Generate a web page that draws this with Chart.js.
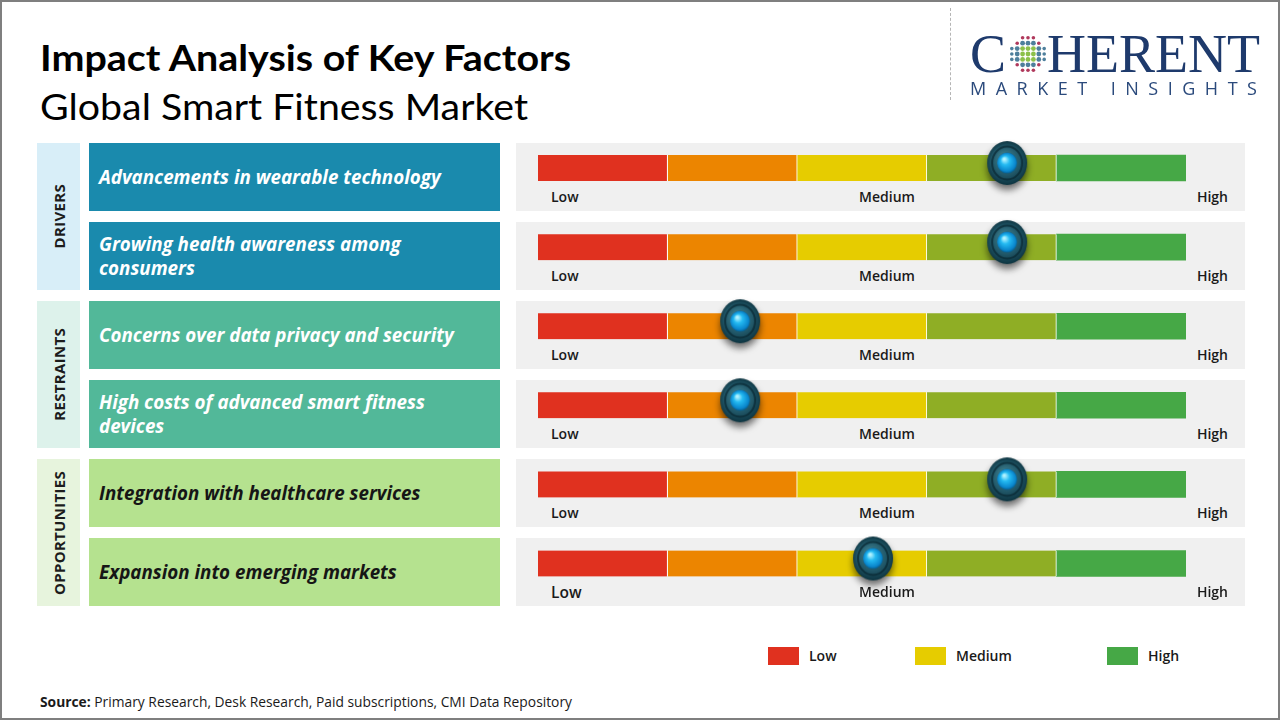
<!DOCTYPE html>
<html><head><meta charset="utf-8">
<script src="https://cdn.jsdelivr.net/npm/chart.js@4.4.1/dist/chart.umd.min.js"></script>
<style>
html,body{margin:0;padding:0;background:#fff;}
#wrap{position:relative;width:1280px;height:720px;overflow:hidden;background:#fff;font-family:'Open Sans',sans-serif;}
#frame{position:absolute;left:0;top:0;width:1276px;height:716px;border:2px solid #7f7f7f;pointer-events:none;z-index:9}
.abs{position:absolute;white-space:nowrap}
#title{left:40px;top:39px;font:700 36px Lato;line-height:36px;color:#000;transform-origin:0 0}
#subtitle{left:40px;top:88px;font:400 36px Lato;line-height:36px;color:#000;transform-origin:0 0}
#dash{left:950px;top:8px;height:92px;border-left:1px dashed #b5b5b5}
.logo{font-family:'Liberation Serif',serif;font-size:54px;line-height:54px;color:#1e3a6c;top:27px}
#mi{left:970px;top:78px;font:400 18px 'Open Sans';line-height:20px;color:#2b4a7c;letter-spacing:9.5px}
#canvas{position:absolute;left:0;top:0;z-index:3}
.gbox{position:absolute;left:516px;width:729px;height:68px;background:#f0f0f0;z-index:1}
.fbox{position:absolute;left:89px;width:411px;height:68px;z-index:1;display:flex;align-items:center;box-sizing:border-box;padding-left:10px}
.fbox span{font:italic 700 18.8px 'Open Sans';line-height:24px;width:376px;white-space:normal}
.band{position:absolute;left:37px;width:43px;z-index:1;display:flex;align-items:center;justify-content:center}
.band span{writing-mode:vertical-rl;transform:rotate(180deg);font:700 15px 'Open Sans';color:#1c1c1c;letter-spacing:0.3px}
.lvl{position:absolute;font:600 14px 'Open Sans';line-height:18px;color:#1a1a1a;z-index:2;white-space:nowrap}
.lg{position:absolute;width:31px;height:18px;top:647px}
.lgt{position:absolute;top:647px;font:600 14px 'Open Sans';line-height:18px;color:#1a1a1a}
#src{left:40px;top:693px;font:400 14px 'Open Sans';line-height:18px;color:#1a1a1a;transform-origin:0 0}
</style></head>
<body><div id="wrap">
<div id="frame"></div>
<div id="title" class="abs">Impact Analysis of Key Factors</div>
<div id="subtitle" class="abs">Global Smart Fitness Market</div>
<div id="dash" class="abs"></div>
<div class="abs logo" style="left:970px">C</div>
<canvas id="globe" width="40" height="40" style="position:absolute;left:1008px;top:34px"></canvas>
<div class="abs logo" style="left:1047px">HERENT</div>
<div id="mi" class="abs">MARKET INSIGHTS</div>
<div id="rows"></div>
<div id="legend"></div>
<div id="src" class="abs"><b>Source:</b> Primary Research, Desk Research, Paid subscriptions, CMI Data Repository</div>
<canvas id="canvas" width="1280" height="720"></canvas>
</div>
<script>
// ---- data ----
const factors = [
  'Advancements in wearable technology',
  'Growing health awareness among consumers',
  'Concerns over data privacy and security',
  'High costs of advanced smart fitness devices',
  'Integration with healthcare services',
  'Expansion into emerging markets'
];
const groups = ['DRIVERS', 'RESTRAINTS', 'OPPORTUNITIES'];
const groupOf = [0, 0, 1, 1, 2, 2];
const impact = [7.24, 7.24, 3.12, 3.12, 7.24, 5.17];
const segEdges = [0, 2, 4, 6, 8, 10];
const scaleLabels = ['Low', 'Medium', 'High'];
const legendLabels = ['Low', 'Medium', 'High'];

// ---- styles ----
const segColors = ['#e0311f', '#ec8500', '#e6cc00', '#8fae25', '#46a846'];
const legendColors = ['#e0311f', '#e6cc00', '#46a846'];
const boxColors = ['#1a8aad', '#52b899', '#b5e28f'];
const bandColors = ['#d8eef8', '#ddf2eb', '#e7f4dd'];
const textColors = ['#ffffff', '#ffffff', '#161616'];

function fitWidth(el, target){
  const w = el.getBoundingClientRect().width;
  el.style.transform = 'scaleX(' + (target / w) + ')';
}

function makeKnob(){
  const c = document.createElement('canvas'); c.width = 56; c.height = 66;
  const g = c.getContext('2d');
  const cx = 28, cy = 28;
  g.save();
  g.shadowColor = 'rgba(0,0,0,0.55)'; g.shadowBlur = 7; g.shadowOffsetY = 5;
  g.beginPath(); g.ellipse(cx, cy, 20, 22, 0, 0, Math.PI * 2);
  const og = g.createRadialGradient(cx - 3, cy - 6, 2, cx, cy, 22);
  og.addColorStop(0, '#3f808e'); og.addColorStop(0.6, '#22596a'); og.addColorStop(1, '#0d3440');
  g.fillStyle = og; g.fill(); g.restore();
  g.beginPath(); g.ellipse(cx, cy, 15, 16.5, 0, 0, Math.PI * 2);
  g.strokeStyle = 'rgba(8,38,48,0.7)'; g.lineWidth = 2; g.stroke();
  const ig = g.createRadialGradient(cx - 3, cy - 4, 1, cx, cy, 11);
  ig.addColorStop(0, '#b0f2ff'); ig.addColorStop(0.35, '#24baf2'); ig.addColorStop(0.8, '#0a86cc'); ig.addColorStop(1, '#06527c');
  g.beginPath(); g.ellipse(cx, cy, 10, 10.5, 0, 0, Math.PI * 2); g.fillStyle = ig; g.fill();
  return c;
}

function drawGlobe(){
  const g = document.getElementById('globe').getContext('2d');
  const cx = 20, cy = 20;
  for (let r = -3; r <= 3; r++) {
    for (let q = -3; q <= 3; q++) {
      const x = cx + q * 5.4, y = cy + r * 5.4;
      const d = Math.hypot(q, r);
      if (d > 3.3) continue;
      let col = '#4e7f9c';
      if (Math.abs(q) <= 1 && Math.abs(r) <= 1) col = '#8cc04a';
      else if (Math.abs(r) === 3 || (Math.abs(r) === 2 && Math.abs(q) === 2)) col = '#b0395c';
      g.beginPath(); g.arc(x, y, d > 2.5 ? 1.8 : 2.4, 0, Math.PI * 2); g.fillStyle = col; g.fill();
    }
  }
}
drawGlobe();

const knob = makeKnob();
const datasets = segColors.map((col, k) => ({
  type: 'bar',
  data: factors.map(() => [segEdges[k], segEdges[k + 1]]),
  backgroundColor: col,
  borderColor: '#ffffff',
  borderWidth: k < segColors.length - 1 ? {left: 0, top: 0, bottom: 0, right: 1} : 0,
  borderSkipped: false,
  barThickness: 26,
  grouped: false,
  order: 2
}));
datasets.push({
  type: 'scatter',
  data: factors.map((f, i) => ({x: impact[i], y: f})),
  pointStyle: knob,
  pointRadius: 20,
  clip: false,
  order: 0
});

const chart = new Chart(document.getElementById('canvas'), {
  type: 'bar',
  data: {labels: factors, datasets},
  options: {
    indexAxis: 'y',
    responsive: false,
    animation: false,
    layout: {padding: {left: 538, right: 94, top: 128.5, bottom: 117}},
    scales: {
      x: {type: 'linear', min: segEdges[0], max: segEdges[segEdges.length - 1], display: false},
      y: {type: 'category', display: false, offset: true}
    },
    plugins: {legend: {display: false}, tooltip: {enabled: false}}
  }
});

// ---- rows aligned to the chart's y scale ----
const rows = document.getElementById('rows');
const ys = chart.scales.y, xs = chart.scales.x;
const centers = factors.map((f, i) => ys.getPixelForTick(i));
factors.forEach((f, i) => {
  const c = centers[i];
  const gb = document.createElement('div'); gb.className = 'gbox'; gb.style.top = (c - 25) + 'px'; rows.appendChild(gb);
  const fb = document.createElement('div'); fb.className = 'fbox';
  fb.style.top = (c - 25) + 'px'; fb.style.background = boxColors[groupOf[i]];
  const sp = document.createElement('span'); sp.textContent = f; sp.style.color = textColors[groupOf[i]];
  fb.appendChild(sp); rows.appendChild(fb);
  const last = i === factors.length - 1;
  const ty = c + 29 - 9;
  const lo = document.createElement('div'); lo.className = 'lvl'; lo.textContent = scaleLabels[0];
  lo.style.left = (xs.getPixelForValue(segEdges[0]) + 13) + 'px'; lo.style.top = ty + 'px'; lo.style.fontSize = (last ? 15.5 : 14) + 'px';
  rows.appendChild(lo);
  const me = document.createElement('div'); me.className = 'lvl'; me.textContent = scaleLabels[1];
  me.style.top = ty + 'px'; rows.appendChild(me);
  me.style.left = (887 - me.getBoundingClientRect().width / 2) + 'px';
  const hi = document.createElement('div'); hi.className = 'lvl'; hi.textContent = scaleLabels[2];
  hi.style.top = ty + 'px'; rows.appendChild(hi);
  hi.style.left = (1228 - hi.getBoundingClientRect().width) + 'px';
});
groups.forEach((gname, gi) => {
  const idx = groupOf.map((g, i) => g === gi ? i : -1).filter(i => i >= 0);
  const top = centers[idx[0]] - 25, bot = centers[idx[idx.length - 1]] + 43;
  const b = document.createElement('div'); b.className = 'band';
  b.style.top = top + 'px'; b.style.height = (bot - top) + 'px'; b.style.background = bandColors[gi];
  const s = document.createElement('span'); s.textContent = gname; b.appendChild(s); rows.appendChild(b);
});

// ---- legend ----
const lg = document.getElementById('legend');
const lgX = [768, 915, 1107];
legendLabels.forEach((l, i) => {
  const sq = document.createElement('div'); sq.className = 'lg'; sq.style.left = lgX[i] + 'px'; sq.style.background = legendColors[i]; lg.appendChild(sq);
  const t = document.createElement('div'); t.className = 'lgt'; t.style.left = (lgX[i] + 41) + 'px'; t.textContent = l; lg.appendChild(t);
});

fitWidth(document.getElementById('title'), 531);
fitWidth(document.getElementById('subtitle'), 488);
fitWidth(document.getElementById('src'), 532);
</script>
</body></html>
